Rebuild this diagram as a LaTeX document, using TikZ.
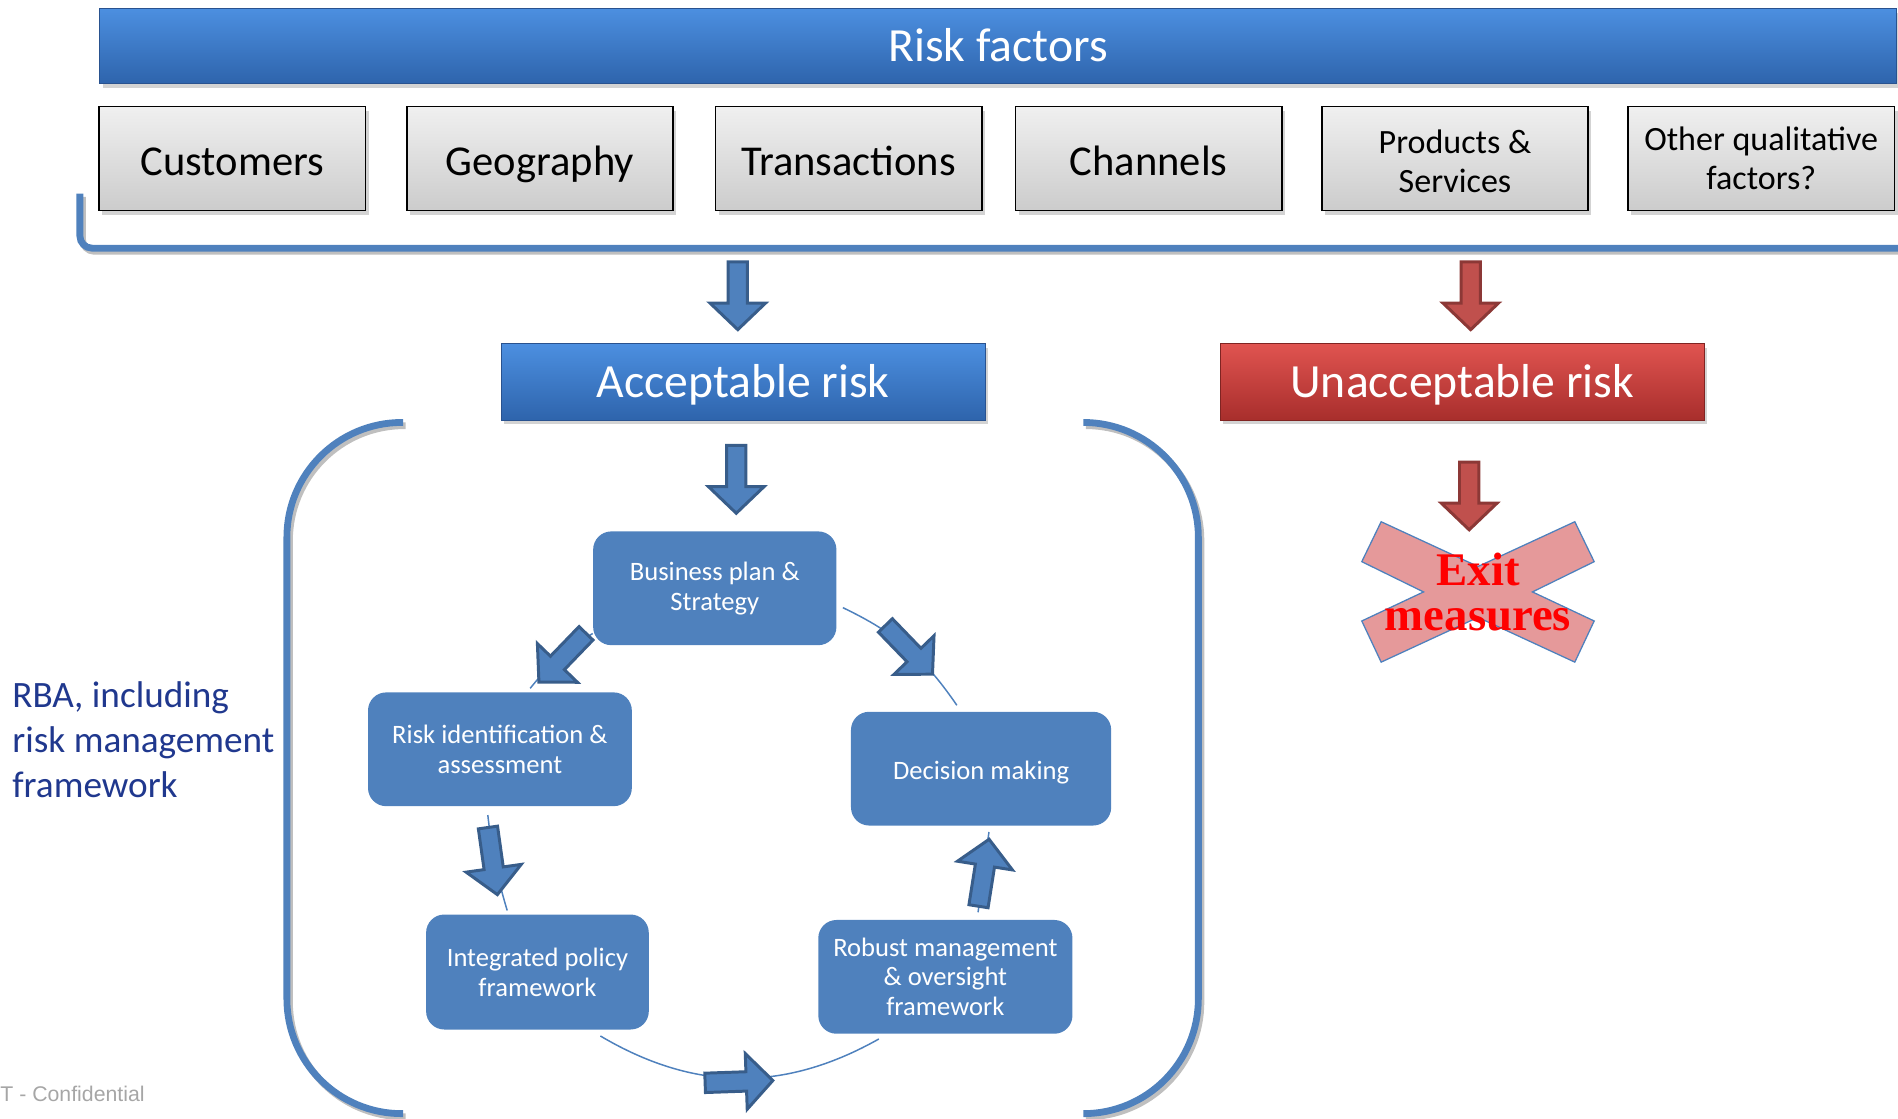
\documentclass[tikz,border=0pt]{standalone}
\usepackage{fontspec}
\setmainfont{Carlito}
\newfontfamily\serifbold{Liberation Serif}
\newfontfamily\footfont{Liberation Sans}
\usepackage{tikz}
\usetikzlibrary{positioning,calc,shadows}

\definecolor{cycblue}{RGB}{79,129,189}
\definecolor{edgeblue}{RGB}{56,93,138}
\definecolor{barhi}{RGB}{76,143,224}
\definecolor{barlo}{RGB}{46,100,172}
\definecolor{barline}{RGB}{41,82,143}
\definecolor{redhi}{RGB}{224,84,80}
\definecolor{redlo}{RGB}{168,46,44}
\definecolor{redline}{RGB}{128,36,34}
\definecolor{redfill}{RGB}{192,80,77}
\definecolor{rededge}{RGB}{140,56,54}
\definecolor{xpink}{RGB}{229,153,154}
\definecolor{rbanavy}{RGB}{32,56,142}

\tikzset{
	bar/.style={text=white, font=\fontsize{22.4}{26}\selectfont, text height=15.5pt, text depth=1pt,
		drop shadow={shadow xshift=1.5pt, shadow yshift=-2pt, opacity=0.35}},
	bluebar/.style={bar, draw=barline, top color=barhi, bottom color=barlo},
	redbar/.style={bar, draw=redline, top color=redhi, bottom color=redlo},
	factor/.style={draw=black, line width=0.8pt, top color=gray!12, bottom color=gray!40,
		minimum width=4.4cm, minimum height=1.72cm, align=center,
		drop shadow={shadow xshift=1.5pt, shadow yshift=-2pt, opacity=0.35}},
	bigfactor/.style={factor, font=\fontsize{20}{24}\selectfont, text height=15.5pt, text depth=0pt},
	smallfactor/.style={factor, font=\fontsize{16}{18.5}\selectfont},
	cycbox/.style={fill=cycblue, rounded corners=0.3cm, text=white, align=center,
		minimum height=1.88cm, font=\fontsize{12.5}{14}\selectfont},
	cycline/.style={draw=cycblue, line width=0.7pt},
	bluearrow/.style={fill=cycblue, draw=edgeblue, line width=1.4pt},
	redarrow/.style={fill=redfill, draw=rededge, line width=1.4pt},
	bracketline/.style={draw=cycblue, line width=3.2pt,
		preaction={draw=black!25, line width=3.2pt, transform canvas={xshift=1.2pt, yshift=-1.5pt}}},
	blockarrow/.pic={
		\draw[pic actions] (-28,-8) -- (6,-8) -- (6,-23) -- (28,0) -- (6,23) -- (6,8) -- (-28,8) -- cycle;
	}
}

\begin{document}
\begin{tikzpicture}[x=0.02cm, y=-0.02cm]
	\useasboundingbox (0,0) rectangle (1568,924);

	% risk factors
	\node[bluebar, minimum width=29.7cm, minimum height=1.24cm] (rf) at (824.5,38) {Risk factors};
	\node[bigfactor] (cust) at (192,131) {Customers};
	\node[bigfactor] (geo) at (446,131) {Geography};
	\node[bigfactor] (tra) at (701,131) {Transactions};
	\node[bigfactor] (chan) at (949,131) {Channels};
	\node[smallfactor, text height=32pt] (prod) at (1202,131) {Products \&\\Services};
	\node[smallfactor] (other) at (1455,131) {Other qualitative\\factors?};

	\draw[bracketline, rounded corners=0.2cm] (66,160) -- (66,205) -- (1600,205);
	\coordinate (brkL) at (605,205);
	\coordinate (brkR) at (1222,205);

	% acceptable / unacceptable
	\node[bluebar, minimum width=8cm, minimum height=1.26cm] (acc) at (614,315.5) {Acceptable risk};
	\node[redbar, minimum width=8cm, minimum height=1.26cm] (unacc) at (1208,315.5) {Unacceptable risk};
	\pic[bluearrow, rotate=-90] at ($(brkL)!0.5!(acc.north)$) {blockarrow};
	\pic[redarrow, rotate=-90] at ($(brkR)!0.5!(unacc.north)$) {blockarrow};

	% exit
	\coordinate (xc) at (1221,489);
	\draw[fill=xpink, draw=cycblue, line width=0.6pt, shift={(xc)}]
		(-80,-58) -- (0,-21) -- (80,-58) -- (96,-25) -- (45,0) -- (96,24) -- (80,58)
		-- (0,21) -- (-80,58) -- (-96,24) -- (-45,0) -- (-96,-25) -- cycle;
	\node[text=red, align=center, font=\serifbold\bfseries\fontsize{22}{21.5}\selectfont] (exit) at (xc) {Exit\\measures};
	\pic[redarrow, rotate=-90] at ($(unacc.south)!0.44!(xc)$) {blockarrow};

	% RBA cycle
	\draw[bracketline, rounded corners=1.9cm] (333,349) -- (237,349) -- (237,920) -- (333,920);
	\draw[bracketline, rounded corners=1.9cm] (897,349) -- (990,349) -- (990,920) -- (897,920);

	\node[cycbox, minimum width=4.02cm] (bp) at (590.5,486) {Business plan \&\\Strategy};
	\node[cycbox, minimum width=4.36cm] (rid) at (413,619) {Risk identification \&\\assessment};
	\node[cycbox, minimum width=4.3cm, text height=12pt] (dm) at (810.5,635) {Decision making};
	\node[cycbox, minimum width=3.68cm, minimum height=1.9cm] (ipf) at (444,803) {Integrated policy\\framework};
	\node[cycbox, minimum width=4.2cm] (rmo) at (781,807) {Robust management\\\& oversight\\framework};
	\pic[bluearrow, rotate=-90] at ($(acc.south)!0.5!(bp.north)+(6,3)$) {blockarrow};

	\draw[cycline] ([shift={(5,16)}]bp.east) to[bend left=15] ([shift={(-20,-5)}]dm.north);
	\draw[cycline] ([shift={(0,-10)}]bp.south west) to[bend right=10] ([shift={(25,-3)}]rid.north);
	\draw[cycline] ([shift={(-10,7)}]rid.south) to[bend right=5] ([shift={(-25,-3)}]ipf.north);
	\draw[cycline] ([shift={(52,5)}]ipf.south) to[bend right=30] ([shift={(-55,4)}]rmo.south);
	\draw[cycline] ([shift={(27,-6)}]rmo.north) -- ([shift={(6.5,5)}]dm.south);

	\pic[bluearrow, rotate=-46] at ($(bp.east)!0.5!(dm.north)$) {blockarrow};
	\pic[bluearrow, rotate=-134] at ($(bp.south west)+(-25,10)$) {blockarrow};
	\pic[bluearrow, rotate=-82] at ($(rid.south)+(-6,45)$) {blockarrow};
	\pic[bluearrow, rotate=2] at ($(ipf.south)!0.5!(rmo.south)+(-2,41)$) {blockarrow};
	\pic[bluearrow, rotate=81] at ($(rmo.north)!0.5!(dm.south)+(17,0)$) {blockarrow};

	\node[anchor=west, align=left, text=rbanavy, font=\fontsize{17.5}{21}\selectfont] (rba) at (4,611) {RBA, including\\risk management\\framework};
	\node[anchor=west, inner sep=0pt, text=gray!70, font=\footfont\fontsize{10}{12}\selectfont] (conf) at (0,904) {T - Confidential};
\end{tikzpicture}
\end{document}
